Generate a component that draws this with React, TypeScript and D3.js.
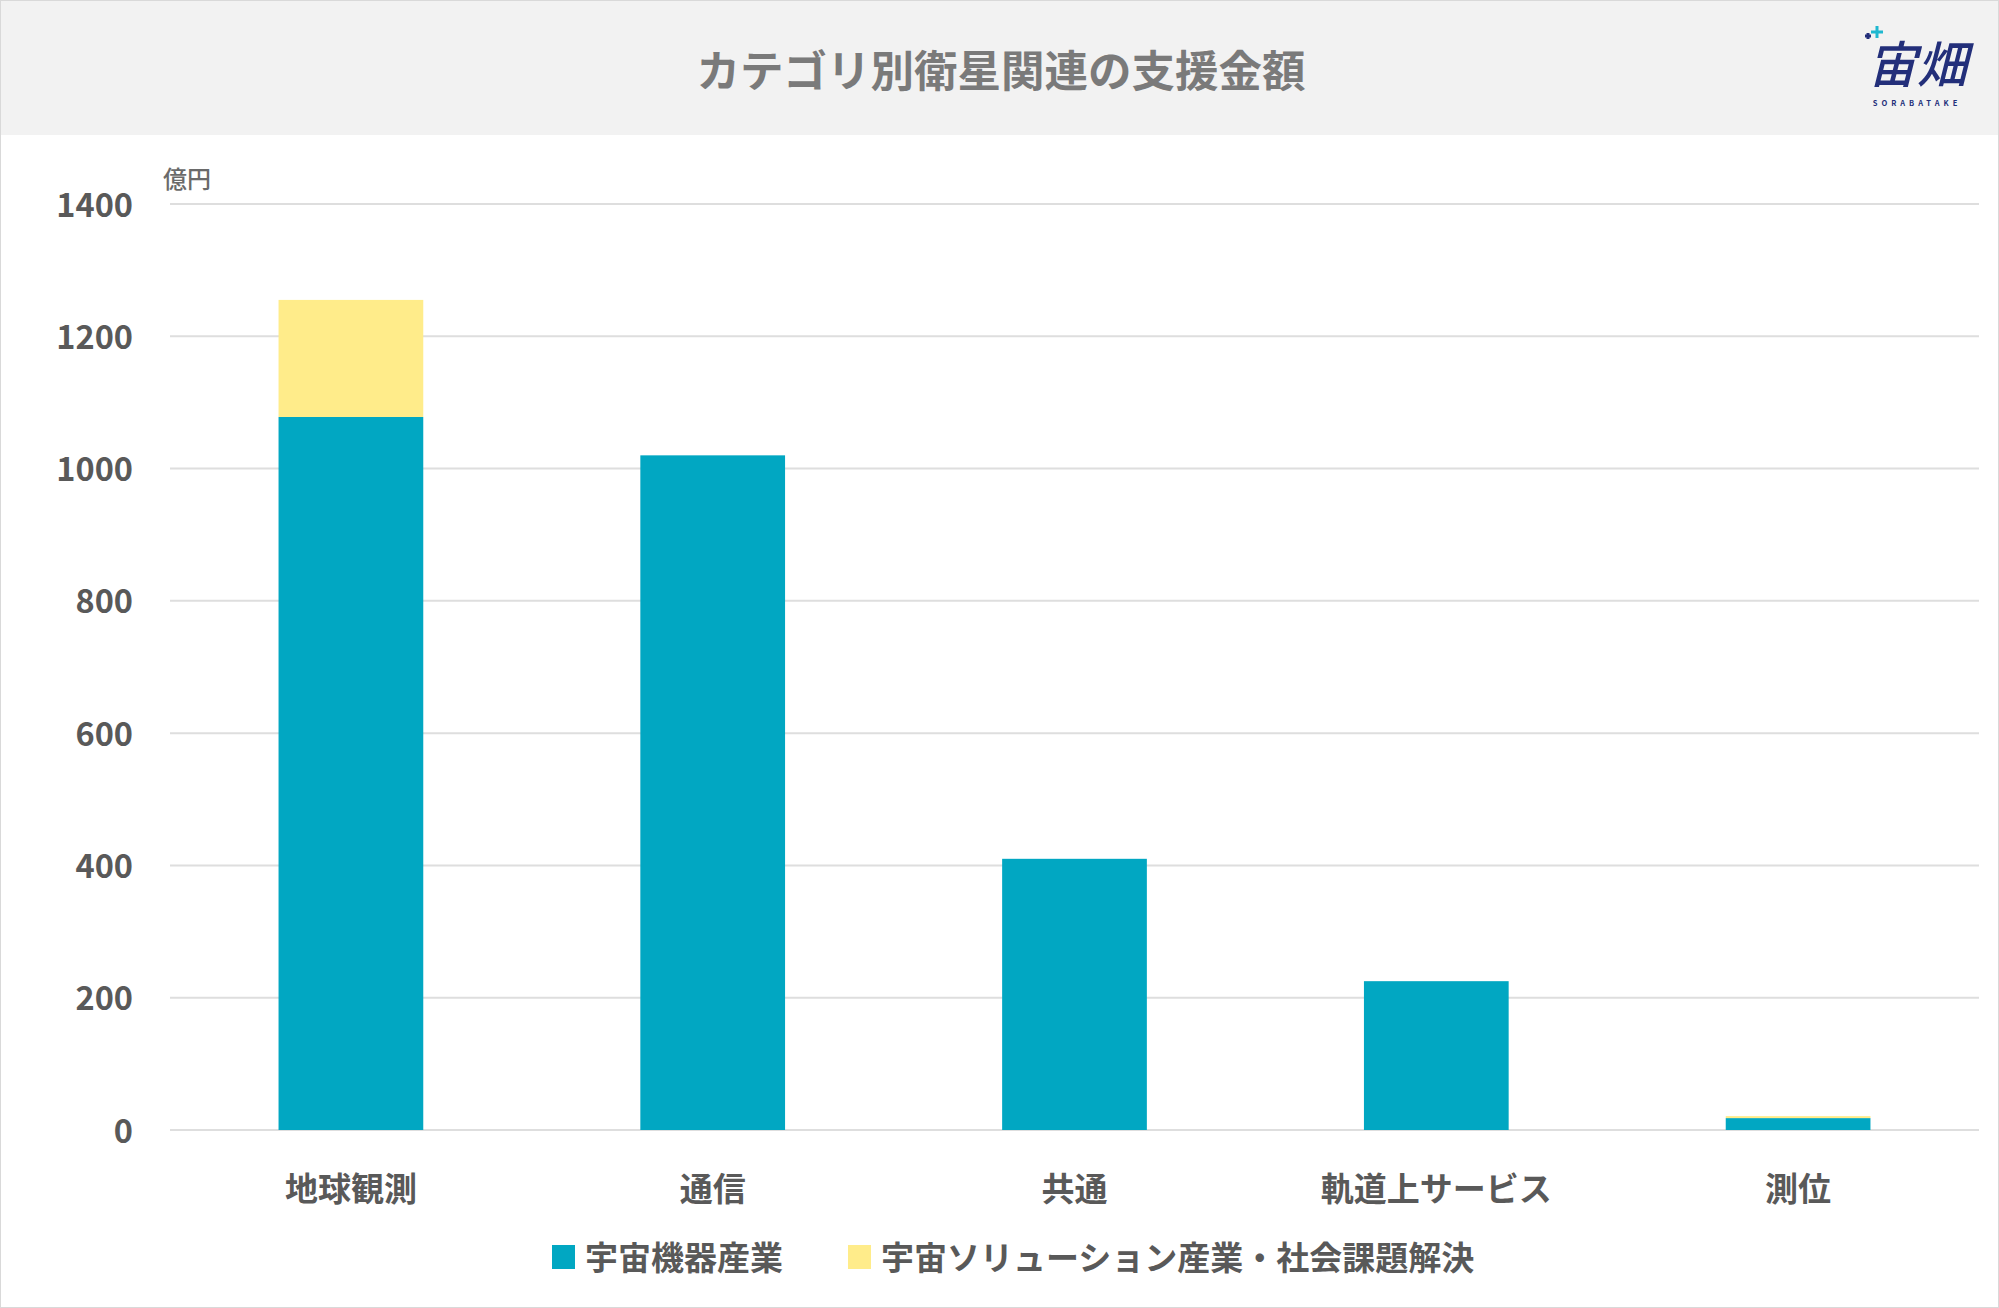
import { useEffect, useRef } from "react";
import * as d3 from "d3";

const categories = ["地球観測", "通信", "共通", "軌道上サービス", "測位"];
const seriesNames = ["宇宙機器産業", "宇宙ソリューション産業・社会課題解決"];
const equipment = [1078, 1020, 410, 225, 18];
const solution = [177, 0, 0, 0, 3];
const yTicks = [0, 200, 400, 600, 800, 1000, 1200, 1400];
const colors = ["#01A7C2", "#FFEC8A"];

const W = 1999;
const H = 1308;
const FONT = "'Noto Sans CJK JP', 'Noto Sans', sans-serif";

export default function App() {
  const svgRef = useRef<SVGSVGElement | null>(null);

  useEffect(() => {
    document.body.style.margin = "0";
    const svg = d3.select(svgRef.current);
    svg.selectAll("*").remove();

    const margin = { top: 204, right: 20, bottom: 178, left: 170 };

    // background + header
    svg.append("rect").attr("width", W).attr("height", H).attr("fill", "#fff")
      .attr("stroke", "#d9d9d9").attr("stroke-width", 2);
    svg.append("rect").attr("x", 1).attr("y", 1).attr("width", W - 2).attr("height", 134).attr("fill", "#f2f2f2");

    svg.append("text")
      .attr("x", 1001).attr("y", 68)
      .attr("text-anchor", "middle").attr("dominant-baseline", "central")
      .attr("font-family", FONT).attr("font-weight", 700).attr("font-size", 43.5)
      .attr("fill", "#7a7a7a")
      .text("カテゴリ別衛星関連の支援金額");

    // logo
    const logo = svg.append("g").attr("transform", "translate(1917,0)");
    logo.append("text").attr("x", 0).attr("y", 83).attr("text-anchor", "middle")
      .attr("font-family", FONT).attr("font-weight", 500).attr("font-size", 50)
      .attr("font-style", "italic").attr("fill", "#232f7a").text("宙畑");
    logo.append("text").attr("x", 0).attr("y", 106).attr("text-anchor", "middle")
      .attr("font-family", FONT).attr("font-weight", 700).attr("font-size", 7.5)
      .attr("letter-spacing", 4).attr("fill", "#232f7a").text("SORABATAKE");
    const plus = (cx: number, cy: number, r: number, c: string) =>
      logo.append("path").attr("d", `M${cx - r},${cy}H${cx + r}M${cx},${cy - r}V${cy + r}`)
        .attr("stroke", c).attr("stroke-width", 3).attr("fill", "none");
    plus(-40, 32, 6, "#1fb8d0");
    plus(-49, 36, 3, "#232f7a");

    const x = d3.scaleBand<string>()
      .domain(categories)
      .range([margin.left, W - margin.right])
      .paddingInner(0.6)
      .paddingOuter(0.3);

    const y = d3.scaleLinear()
      .domain([0, 1400])
      .range([H - margin.bottom, margin.top]);

    // gridlines
    svg.append("g").selectAll("line").data(yTicks).enter().append("line")
      .attr("x1", margin.left).attr("x2", W - margin.right)
      .attr("y1", d => y(d)).attr("y2", d => y(d))
      .attr("stroke", "#dedede").attr("stroke-width", 2);

    // y labels
    svg.append("g").selectAll("text").data(yTicks).enter().append("text")
      .attr("x", 133).attr("y", d => y(d) - 2)
      .attr("text-anchor", "end").attr("dominant-baseline", "central")
      .attr("font-family", FONT).attr("font-weight", 700).attr("font-size", 32.5)
      .attr("fill", "#595959")
      .text(d => String(d));

    svg.append("text")
      .attr("x", 163).attr("y", 177)
      .attr("dominant-baseline", "central")
      .attr("font-family", FONT).attr("font-size", 24).attr("font-weight", 500)
      .attr("fill", "#6a6a6a").text("億円");

    // stacked bars
    const rows = categories.map((c, i) => ({ cat: c, s0: equipment[i], s1: solution[i] }));
    const stack = d3.stack<{ cat: string; s0: number; s1: number }>().keys(["s0", "s1"]);
    const layers = stack(rows);

    svg.append("g").selectAll("g").data(layers).enter().append("g")
      .attr("fill", (_, i) => colors[i])
      .selectAll("rect").data(d => d).enter().append("rect")
      .attr("x", d => x(d.data.cat)!)
      .attr("width", x.bandwidth())
      .attr("y", d => y(d[1]))
      .attr("height", d => y(d[0]) - y(d[1]));

    // category labels
    svg.append("g").selectAll("text").data(categories).enter().append("text")
      .attr("x", d => x(d)! + x.bandwidth() / 2).attr("y", 1187)
      .attr("text-anchor", "middle").attr("dominant-baseline", "central")
      .attr("font-family", FONT).attr("font-weight", 700).attr("font-size", 33)
      .attr("fill", "#595959")
      .text(d => d);

    // legend
    const legendX = [552, 848];
    const legend = svg.append("g").selectAll("g").data(seriesNames).enter().append("g")
      .attr("transform", (_, i) => `translate(${legendX[i]},1256)`);
    legend.append("rect").attr("x", 0).attr("y", -11).attr("width", 23).attr("height", 24)
      .attr("fill", (_, i) => colors[i]);
    legend.append("text").attr("x", 33).attr("y", 0)
      .attr("dominant-baseline", "central")
      .attr("font-family", FONT).attr("font-weight", 700).attr("font-size", 33)
      .attr("fill", "#595959")
      .text(d => d);
  }, []);

  return (
    <svg ref={svgRef} width={W} height={H}
      style={{ position: "absolute", left: 0, top: 0, display: "block" }} />
  );
}
